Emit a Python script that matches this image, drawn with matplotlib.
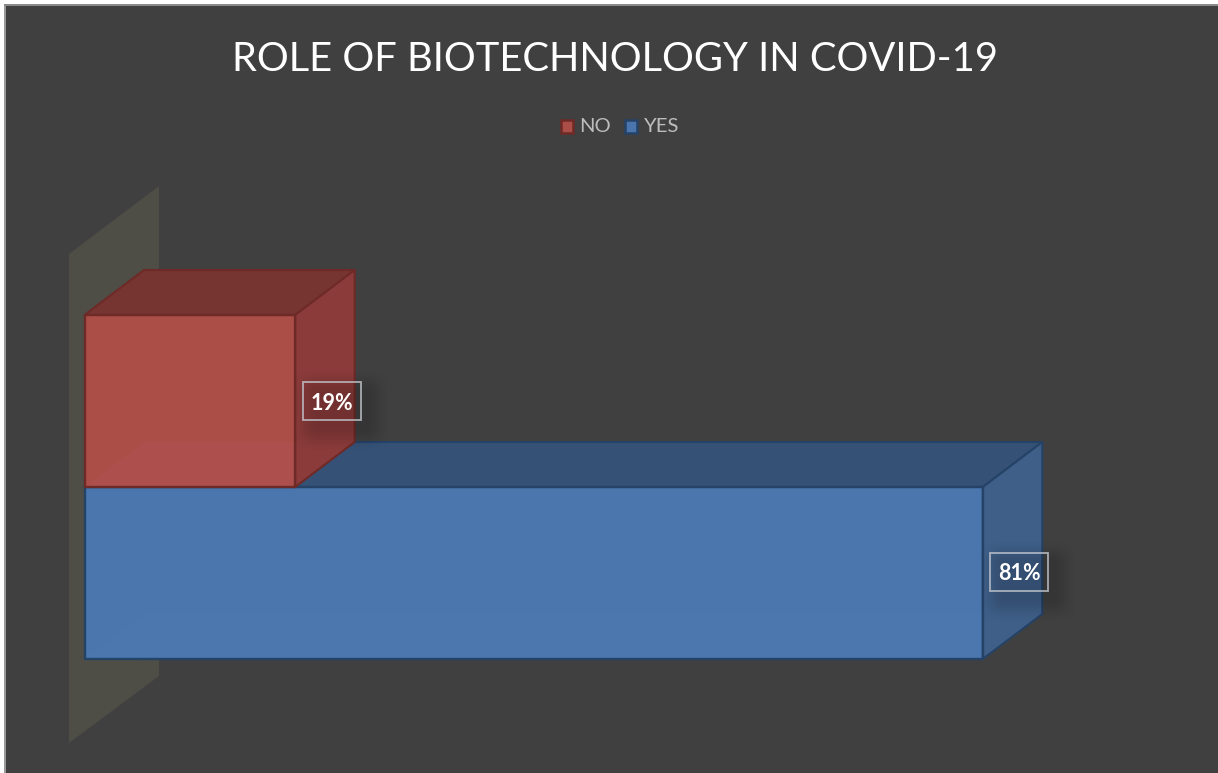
import numpy as np
import matplotlib
matplotlib.use('Agg')
import matplotlib.pyplot as plt
from matplotlib.patches import Polygon, Rectangle

categories = ['YES', 'NO']
values = [81, 19]
title = 'ROLE OF BIOTECHNOLOGY IN COVID-19'

W, H = 1218, 773
plt.rcParams['font.family'] = ['Lato', 'DejaVu Sans']

fig = plt.figure(figsize=(W / 100, H / 100), dpi=100, facecolor='#404040')
ax = fig.add_axes([0, 0, 1, 1])
ax.axis('off')

# x axis is percent, y axis is the category band (172 px high)
px_x = 11.09
px_y = 172.0
ax.set_xlim(-84.5 / px_x, (W - 84.5) / px_x)
ax.set_ylim(-(H - 659) / px_y, 659 / px_y)

DX = 59.5 / px_x
DY = 45.0 / px_y


def poly(pts, fc, ec=None, lw=1.5, alpha=1, z=2):
    ax.add_patch(Polygon(pts, closed=True, facecolor=fc, edgecolor=ec if ec else 'none',
                         linewidth=lw, alpha=alpha, zorder=z, joinstyle='round'))


def draw_bar(i, val, c, z):
    y0, y1 = i, i + 1
    poly([(0, y0), (val, y0), (val, y1), (0, y1)], c['front'], z=z)
    # floor and far corner only just show through the front
    poly([(0, y0), (DX, y0 + DY), (val + DX, y0 + DY), (val, y0)], c['floor'], z=z + 0.1)
    ax.plot([DX, DX], [y0, y1], color=c['floor'], lw=1, alpha=0.5, zorder=z + 0.1)
    poly([(0, y1), (DX, y1 + DY), (val + DX, y1 + DY), (val, y1)], c['top'], c['edge'], z=z + 0.2)
    poly([(val, y0), (val + DX, y0 + DY), (val + DX, y1 + DY), (val, y1)], c['side'], c['edge'], z=z + 0.2)
    poly([(0, y0), (val, y0), (val, y1), (0, y1)], 'none', c['edge'], lw=1.7, z=z + 0.3)


def shadow(xc, yc, w, h, z):
    # soft label shadow, offset down and right
    n = 160
    xs = np.linspace(-1, 1, n)
    xx, yy = np.meshgrid(xs, xs)
    a = np.clip((1 - np.abs(xx)) * 2.0, 0, 1)
    b = np.clip((1 - np.abs(yy)) * 1.7, 0, 1)
    d = (a * a * (3 - 2 * a)) * (b * b * (3 - 2 * b))
    rgba = np.zeros((n, n, 4))
    rgba[..., 3] = 0.17 * d
    ax.imshow(rgba, extent=(xc - w / 2, xc + w / 2, yc - h / 2, yc + h / 2),
              aspect='auto', zorder=z, interpolation='bilinear')


# back wall
wall_l = -15.5 / px_x
wall_r = 74.5 / px_x
poly([(wall_l, -84 / px_y), (wall_r, -17 / px_y), (wall_r, 473 / px_y), (wall_l, 405 / px_y)],
     '#4e4d46', z=1)

red = dict(front='#ab4e47', side='#8a3b3a', top='#763531', floor='#ac4f4d', edge='#6e2a27')
blue = dict(front='#4a76ad', side='#3f5f88', top='#355176', floor='#4b77ae', edge='#254267')
colors = {'YES': blue, 'NO': red}

for i, (name, v) in enumerate(zip(categories, values)):
    draw_bar(i, v, colors[name], 3 + 2 * i)

# data labels
label_pos = [(1019, 572), (332, 401)]
for (lx, ly), v in zip(label_pos, values):
    x = (lx - 84.5) / px_x
    y = (659 - ly) / px_y
    shadow(x + 9 / px_x, y - 9 / px_y, 100 / px_x, 84 / px_y, 8)
    ax.add_patch(Rectangle((x - 29 / px_x, y - 19 / px_y), 58 / px_x, 38 / px_y, facecolor='none',
                           edgecolor='#c4c9d0', linewidth=1.3, alpha=0.8, zorder=9))
    ax.text(x, y - 2 / px_y, f'{v}%', color='white', fontsize=15.5, fontweight='bold',
            ha='center', va='center', zorder=10)

# title and legend
fig.text(615 / W, 1 - 59.5 / H, title, color='white', fontsize=28.7, ha='center', va='center')

legend_items = [('NO', red, 567, 579), ('YES', blue, 631, 644)]
for name, c, sx, tx in legend_items:
    fig.add_artist(Rectangle(((sx - 6) / W, 1 - (132.5 / H)), 12 / W, 12.5 / H, transform=fig.transFigure,
                             facecolor=c['front'], edgecolor=c['edge'], linewidth=1.8))
    fig.text(tx / W, 1 - 127 / H, name, color='#bdbdbd', fontsize=14.6, ha='left', va='center')

# screenshot edge
fig.add_artist(Rectangle((0, 0), 4 / W, 1, transform=fig.transFigure, facecolor='white', edgecolor='none'))
fig.add_artist(Rectangle((0, 1 - 4 / H), 1, 4 / H, transform=fig.transFigure, facecolor='white', edgecolor='none'))
fig.add_artist(Rectangle((4 / W, 0), 1.5 / W, 1 - 4 / H, transform=fig.transFigure, facecolor='#9a9a9a', edgecolor='none'))
fig.add_artist(Rectangle((4 / W, 1 - 5.5 / H), 1, 1.5 / H, transform=fig.transFigure, facecolor='#8a8a8a', edgecolor='none'))

fig.savefig('out.png', dpi=100, facecolor=fig.get_facecolor())
